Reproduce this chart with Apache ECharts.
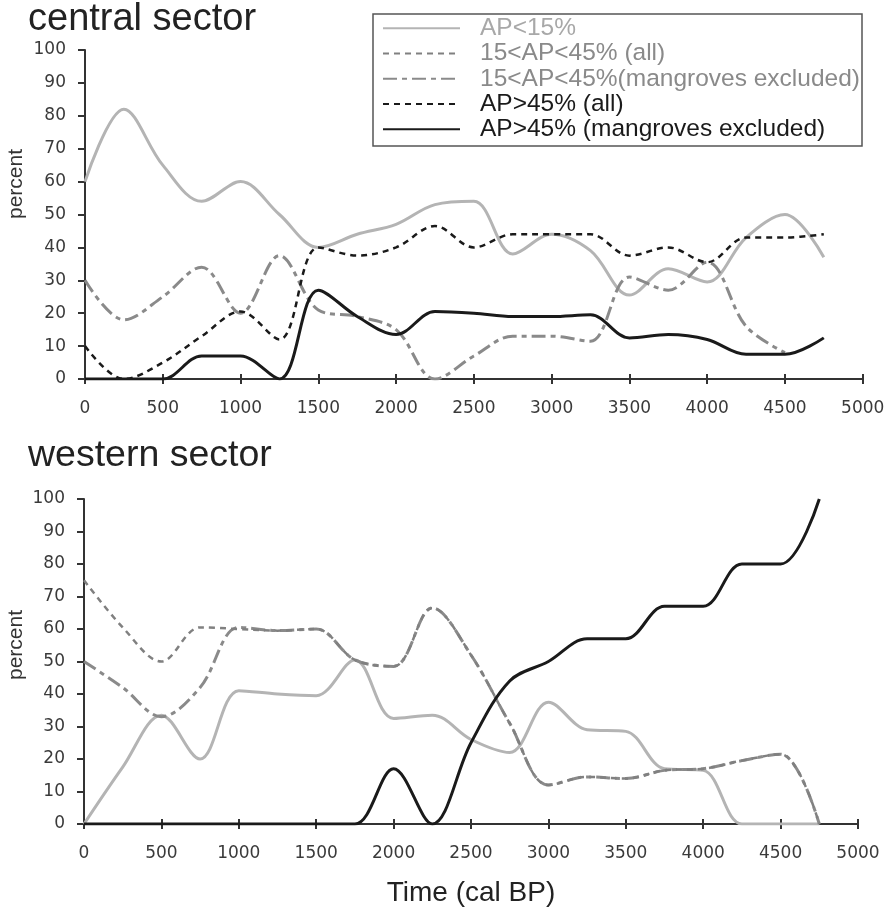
<!DOCTYPE html>
<html>
<head>
<meta charset="utf-8">
<script src="https://cdn.jsdelivr.net/npm/echarts@6/dist/echarts.min.js"></script>
<style>
html,body{margin:0;padding:0;background:#fff;}
#chart{width:890px;height:908px;}
#err{position:absolute;left:100px;top:400px;font:11px monospace;color:red;white-space:pre;}
</style>
</head>
<body>
<div id="chart"></div>
<div id="err"></div>
<script>
// ---- data ----
const years = [0,250,500,750,1000,1250,1500,1750,2000,2250,2500,2750,3000,3250,3500,3750,4000,4250,4500,4750];
const xTicks = [0,500,1000,1500,2000,2500,3000,3500,4000,4500,5000];
const yTicks = [0,10,20,30,40,50,60,70,80,90,100];

const seriesNames = ['AP<15%','15<AP<45% (all)','15<AP<45%(mangroves excluded)','AP>45% (all)','AP>45% (mangroves excluded)'];

// central sector
const centralAP15      = [60,82,65,54,60,50,40,44,47,53,54,38,44,39,25.5,33.5,29.5,43,50,37];
const centralMidExcl   = [30,18,25,34,20,37.5,21,19,15,0,7,13,13,11.5,31,27,35.5,16,8,null];
const centralAP45All   = [10,0,5,13,20.5,12,40,37.5,40,46.5,40,44,44,44,37.5,40,35.5,43,43,44];
const centralAP45Excl  = [0,0,0,7,7,0,27,19,13.5,20.5,20,19,19,19.5,12.5,13.5,12,7.5,7.5,12.5];

// western sector
const westernAP15      = [0,17.5,33.5,20,41,40,39.5,50.5,32.5,33.5,26,22,37.5,29,28.5,17,16.5,0,0,0];
const westernMidAll    = [75,60.5,50,60.5,60,59.5,60,50.5,48.5,66.5,52,31,12,14.5,14,16.5,17,19.5,21.5,0];
const westernMidExcl   = [50,42,33,42,60.5,59.5,60,50.5,48.5,66.5,52,31,12,14.5,14,16.5,17,19.5,21.5,0];
const westernAP45Excl  = [0,0,0,0,0,0,0,0,17,0,25,44,50,57,57,67,67,80,80,100];

// ---- styles ----
const styles = {
  'AP<15%': {color:'#b4b4b4', width:3, type:'solid'},
  '15<AP<45% (all)': {color:'#808080', width:2.5, type:[6,5]},
  '15<AP<45%(mangroves excluded)': {color:'#8a8a8a', width:3, type:[14,5,5,5]},
  'AP>45% (all)': {color:'#1a1a1a', width:2.5, type:[6,5]},
  'AP>45% (mangroves excluded)': {color:'#1a1a1a', width:3, type:'solid'}
};
const legendColors = ['#a8a8a8','#8a8a8a','#8a8a8a','#1a1a1a','#1a1a1a'];

function pairs(vals){ return years.map((y,i)=>[y, vals[i]]); }
function mkSeries(name, vals, xi, yi){
  const s = styles[name];
  return {
    name, type:'line', xAxisIndex:xi, yAxisIndex:yi, data:pairs(vals),
    smooth:0.35, showSymbol:false, symbol:'none', connectNulls:false,
    lineStyle:{color:s.color, width:s.width, type:s.type},
    itemStyle:{color:s.color}, animation:false
  };
}

const labelFont = {fontFamily:'DejaVu Sans', fontSize:17, color:'#3a3a3a', formatter:(v)=>String(v)};
function mainX(gi){
  return {type:'value', gridIndex:gi, position:'bottom', min:xTicks[0], max:xTicks[xTicks.length-1], interval:500,
    axisLine:{show:true, onZero:false, lineStyle:{color:'#333', width:2}},
    axisTick:{show:true, inside:false, length:5, lineStyle:{color:'#333', width:2}},
    axisLabel:Object.assign({margin:21}, labelFont), splitLine:{show:false}};
}
function innerX(gi){
  return {type:'value', gridIndex:gi, position:'bottom', min:xTicks[0], max:xTicks[xTicks.length-1], interval:500,
    axisLine:{show:false, onZero:false}, axisTick:{show:true, inside:true, length:5, lineStyle:{color:'#333', width:2}},
    axisLabel:{show:false}, splitLine:{show:false}};
}
function yAx(gi){
  return {type:'value', gridIndex:gi, position:'left', min:yTicks[0], max:yTicks[yTicks.length-1], interval:10,
    axisLine:{show:true, onZero:false, lineStyle:{color:'#333', width:2}},
    axisTick:{show:true, inside:false, length:7, lineStyle:{color:'#333', width:2}},
    axisLabel:Object.assign({margin:19}, labelFont), splitLine:{show:false}};
}

function buildOption(useInner, useGraphic){
  const xb = mainX(1);
  xb.name = 'Time (cal BP)';
  xb.nameLocation = 'middle';
  xb.nameGap = 55;
  xb.nameTextStyle = {fontFamily:'Liberation Sans', fontSize:28, color:'#222'};
  const xAxes = useInner ? [mainX(0), xb, innerX(0), innerX(1)] : [mainX(0), xb];
  const opt = {
    backgroundColor:'#fff',
    animation:false,
    title:[
      {text:'central sector', left:28, top:1, padding:0, textStyle:{fontFamily:'Liberation Sans', fontSize:38, fontWeight:'normal', color:'#222'}},
      {text:'western sector', left:28, top:437, padding:0, textStyle:{fontFamily:'Liberation Sans', fontSize:37.5, fontWeight:'normal', color:'#222'}}
    ],
    legend:{
      orient:'vertical', left:382, top:15.5, padding:0, itemGap:0, itemWidth:77, itemHeight:14,
      selectedMode:false,
      itemStyle:{opacity:0},
      textStyle:{fontFamily:'Liberation Sans', fontSize:24.5, lineHeight:25.3, padding:[0,0,0,15]},
      data:seriesNames.map((n,i)=>({name:n, textStyle:{color:legendColors[i]}}))
    },
    grid:[
      {left:85, top:50, width:777.7, height:329},
      {left:84, top:499, width:774, height:325}
    ],
    xAxis:xAxes,
    yAxis:[yAx(0), yAx(1)],
    series:[
      mkSeries('AP<15%', centralAP15, 0, 0),
      mkSeries('15<AP<45%(mangroves excluded)', centralMidExcl, 0, 0),
      mkSeries('AP>45% (all)', centralAP45All, 0, 0),
      mkSeries('AP>45% (mangroves excluded)', centralAP45Excl, 0, 0),
      mkSeries('AP<15%', westernAP15, 1, 1),
      mkSeries('15<AP<45%(mangroves excluded)', westernMidExcl, 1, 1),
      mkSeries('15<AP<45% (all)', westernMidAll, 1, 1),
      mkSeries('AP>45% (mangroves excluded)', westernAP45Excl, 1, 1)
    ]
  };
  if (useGraphic) {
    opt.graphic = {elements:[
      {type:'rect', shape:{x:373, y:14, width:489, height:132}, style:{fill:'none', stroke:'#555', lineWidth:1.5}, z:100},
      {type:'text', x:16.5, y:184, rotation:Math.PI/2, style:{text:'percent', font:'21px "Liberation Sans"', fill:'#333', align:'center', verticalAlign:'middle'}},
      {type:'text', x:16.5, y:645, rotation:Math.PI/2, style:{text:'percent', font:'21px "Liberation Sans"', fill:'#333', align:'center', verticalAlign:'middle'}}
    ]};
  }
  return opt;
}

const el = document.getElementById('chart');
const errs = [];
const attempts = [[true,true],[false,true],[true,false],[false,false]];
for (const a of attempts) {
  let chart;
  try {
    chart = echarts.init(el, null, {renderer:'canvas'});
    chart.setOption(buildOption(a[0], a[1]));
    if (errs.length) errs.push('OK with ' + JSON.stringify(a));
    break;
  } catch (e) {
    errs.push(JSON.stringify(a) + ': ' + (e && e.stack ? e.stack.split('\n').slice(0,4).join('\n') : e));
    try { chart && chart.dispose(); } catch(_) {}
  }
}
document.getElementById('err').textContent = errs.join('\n');
</script>
</body>
</html>
